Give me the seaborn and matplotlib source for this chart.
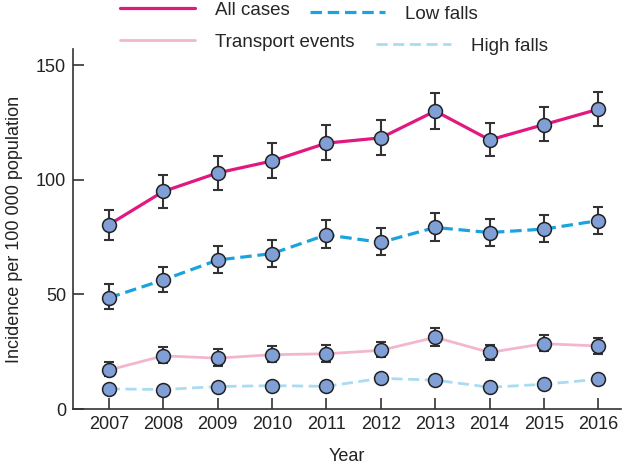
import numpy as np
import pandas as pd
import matplotlib
matplotlib.use('Agg')
import matplotlib.pyplot as plt
from matplotlib.lines import Line2D
import seaborn as sns

# Data
years = [2007, 2008, 2009, 2010, 2011, 2012, 2013, 2014, 2015, 2016]
all_cases = [80.4, 94.9, 103.0, 108.2, 116.0, 118.3, 130.0, 117.4, 124.1, 130.8]
all_lo = [73.8, 87.7, 95.7, 101.0, 108.8, 111.0, 122.2, 110.2, 117.0, 123.5]
all_hi = [87.0, 102.0, 110.6, 116.0, 124.0, 126.2, 137.7, 124.7, 131.7, 138.3]
low_falls = [48.5, 56.3, 65.0, 67.8, 76.0, 72.7, 79.2, 77.0, 78.5, 82.2]
low_lo = [43.7, 50.9, 59.4, 62.1, 70.2, 67.2, 73.4, 71.2, 72.7, 76.3]
low_hi = [54.4, 62.1, 71.3, 73.8, 82.6, 79.0, 85.5, 82.9, 84.6, 88.3]
transport = [17.0, 23.2, 22.2, 23.7, 24.1, 25.6, 31.3, 24.7, 28.5, 27.5]
transport_lo = [14.2, 20.0, 18.9, 20.3, 20.7, 22.5, 27.6, 21.5, 25.1, 24.0]
transport_hi = [20.5, 27.0, 26.2, 27.6, 27.8, 29.2, 35.2, 28.1, 32.1, 30.8]
high_falls = [8.8, 8.5, 9.8, 10.2, 9.9, 13.4, 12.6, 9.5, 10.8, 13.0]
high_lo = [7.5, 7.2, 8.3, 8.7, 8.4, 11.6, 10.9, 8.0, 9.3, 11.4]
high_hi = [10.1, 9.8, 11.3, 11.7, 11.4, 15.2, 14.3, 11.0, 12.3, 14.6]

sns.set_theme(style='ticks')
plt.rcParams['font.family'] = ['Liberation Sans', 'DejaVu Sans']

fig = plt.figure(figsize=(6.34, 4.68), dpi=100)
ax = fig.add_axes([0.115, 0.126, 0.865, 0.769])

series = [
    ('All cases', all_cases, all_lo, all_hi, '#e0187f', '-', 2.3),
    ('Low falls', low_falls, low_lo, low_hi, '#1aa3de', (0, (3.6, 1.8)), 2.3),
    ('Transport events', transport, transport_lo, transport_hi, '#f2b6cf', '-', 2.0),
    ('High falls', high_falls, high_lo, high_hi, '#a9dcf1', (0, (4.0, 2.0)), 2.0),
]

for name, vals, lo, hi, color, ls, lw in series:
    df = pd.DataFrame({'Year': years, 'Value': vals})
    vals = np.array(vals)
    yerr = [vals - np.array(lo), np.array(hi) - vals]
    ax.errorbar(years, vals, yerr=yerr, fmt='none', ecolor='#333333',
                elinewidth=1.5, capsize=3.4, capthick=1.5, zorder=3)
    sns.lineplot(data=df, x='Year', y='Value', ax=ax, color=color,
                 linestyle=ls, linewidth=lw, zorder=2)
    ax.plot(years, vals, 'o', markersize=10, markerfacecolor='#7f9fd6',
            markeredgecolor='#222222', markeredgewidth=1.1, zorder=4)

ax.set_xlim(2006.34, 2016.42)
ax.set_ylim(0, 157)
ax.set_xticks(years)
ax.set_yticks([0, 50, 100, 150])
ax.tick_params(direction='in', length=8, width=1.2, color='#333333',
               labelsize=13, labelcolor='#222222', pad=5)
for s in ['top', 'right']:
    ax.spines[s].set_visible(False)
for s in ['left', 'bottom']:
    ax.spines[s].set_color('#333333')
    ax.spines[s].set_linewidth(1.2)
ax.set_xlabel('Year', fontsize=13, color='#222222', labelpad=11)
ax.set_ylabel('Incidence per 100 000 population', fontsize=13,
              color='#222222', labelpad=9)

# legend entries placed one by one, as in the original
legend_pos = [(120, 10), (310, 14), (120, 42), (376, 46)]
for (name, vals, lo, hi, color, ls, lw), (px, py) in zip(series, legend_pos):
    h = Line2D([0], [0], color=color, linestyle=ls, linewidth=lw)
    leg = fig.legend([h], [name], loc='center left', frameon=False,
                     fontsize=13.5, handlelength=4.0, handletextpad=1.05,
                     borderaxespad=0, borderpad=0,
                     bbox_to_anchor=(px / 634, 1 - py / 468))

fig.savefig('out.png', dpi=100)
